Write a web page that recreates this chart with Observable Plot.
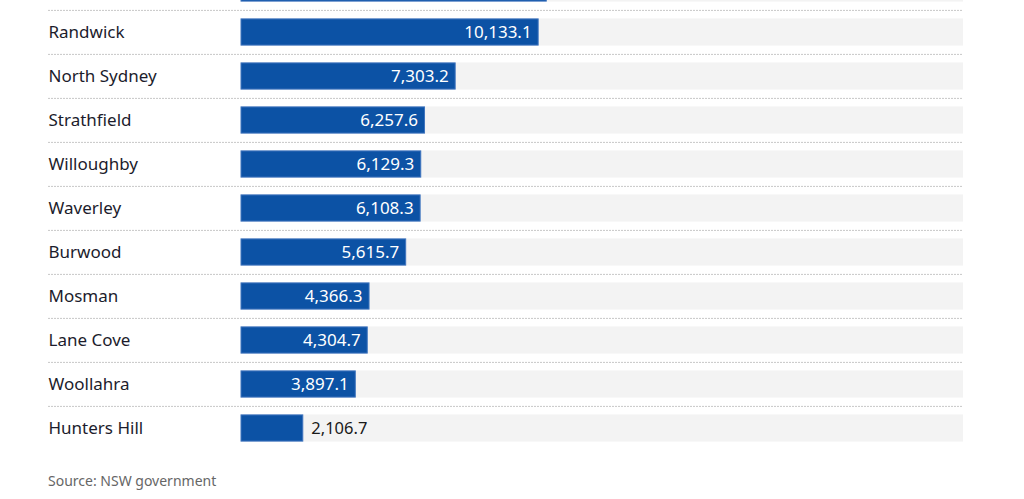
<!DOCTYPE html>
<html>
<head>
<meta charset="utf-8">
<script src="https://cdn.jsdelivr.net/npm/d3@7"></script>
<script src="https://cdn.jsdelivr.net/npm/@observablehq/plot@0.6"></script>
<style>
  html, body { margin: 0; padding: 0; background: #fff; overflow: hidden; }
  #chart svg { display: block; margin-top: -40px; }
  #source { margin-top: 21px; padding-left: 48px; font-family: "Noto Sans", sans-serif; font-size: 14px; line-height: 18px; color: #666; }
</style>
</head>
<body>
<div id="chart"></div>
<div id="source">Source: NSW government</div>
<script>
// First row is scrolled out of view at the top of the reference (only its bar end is visible)
const councils = ["Sydney", "Randwick", "North Sydney", "Strathfield", "Willoughby", "Waverley", "Burwood", "Mosman", "Lane Cove", "Woollahra", "Hunters Hill"];
const values = [10410, 10133.1, 7303.2, 6257.6, 6129.3, 6108.3, 5615.7, 4366.3, 4304.7, 3897.1, 2106.7];
const trackMax = 24620;

const data = councils.map((c, i) => ({council: c, value: values[i], track: trackMax}));
const shown = data.slice(1); // rows whose texts are in view
const fmt = d3.format(",.1f");
const insideMin = 3000;

const plot = Plot.plot({
  width: 1024,
  height: 491,
  marginTop: 5,
  marginBottom: 0,
  marginLeft: 241,
  marginRight: 61,
  style: {fontFamily: "Noto Sans, sans-serif", fontSize: "16px", color: "#1c1c2c"},
  x: {domain: [0, trackMax], axis: null},
  y: {domain: councils, padding: 0, label: null, axis: null},
  marks: [
    Plot.barX(data, {x: "track", y: "council", fill: "#f3f3f3", insetTop: 8.4, insetBottom: 8.4}),
    Plot.ruleY(data, {y: "council", dy: -22.1, insetLeft: -193, stroke: "#c8c8c8", strokeDasharray: "2,1", strokeWidth: 1}),
    Plot.barX(data, {x: "value", y: "council", fill: "#0c52a5", stroke: "#3f74be", strokeWidth: 1, insetTop: 8.9, insetBottom: 8.9}),
    Plot.text(shown.filter(d => d.value >= insideMin), {x: "value", y: "council", text: d => fmt(d.value), dx: -7, textAnchor: "end", fill: "white", fontSize: 17}),
    Plot.text(shown.filter(d => d.value < insideMin), {x: "value", y: "council", text: d => fmt(d.value), dx: 8, textAnchor: "start", fill: "#1a1a1a", fontSize: 16.5}),
    Plot.axisY(councils.slice(1), {tickSize: 0, tickPadding: 0, textAnchor: "start", dx: -193, fontSize: 17, fill: "#1c1c2c", label: null})
  ]
});
document.getElementById("chart").appendChild(plot);
</script>
</body>
</html>
